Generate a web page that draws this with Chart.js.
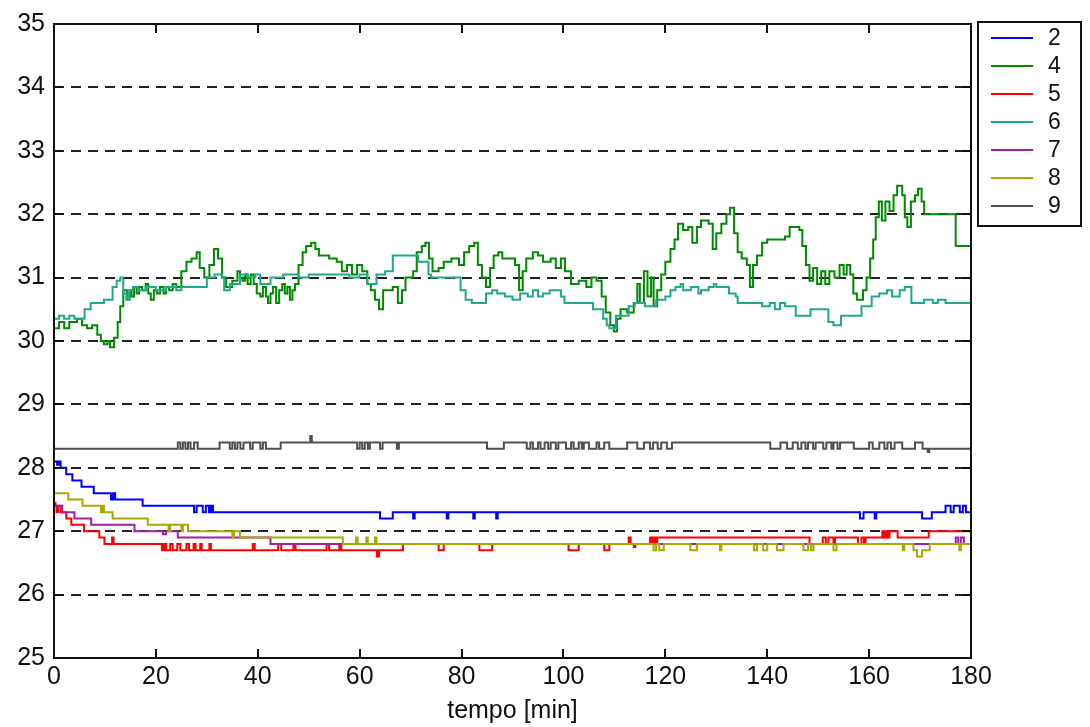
<!DOCTYPE html>
<html>
<head>
<meta charset="utf-8">
<script src="https://cdn.jsdelivr.net/npm/chart.js@4.4.1/dist/chart.umd.min.js"></script>
<style>
  html, body { margin: 0; padding: 0; background: #fff; }
  canvas { display: block; }
</style>
</head>
<body>
<canvas id="chart" width="1090" height="727"></canvas>
<script>
// sensor labels and colours
const names = ['2', '4', '5', '6', '7', '8', '9']
const colors = ['#0000ff', '#008a00', '#ff0000', '#20a88c', '#a020a0', '#a8a800', '#505050']

const xTicks = [0, 20, 40, 60, 80, 100, 120, 140, 160, 180]
const yTicks = [25, 26, 27, 28, 29, 30, 31, 32, 33, 34, 35]

// sensor 2 (time in min, temperature)
const t2 = [0, 0.6, 1, 1.3, 2.4, 3.6, 5.4, 7.8, 11.2, 11.6, 12, 17.4, 27.5, 28, 29.2, 29.8, 30.4, 30.8, 31.2,
  64, 66.5, 70.5, 70.8, 77.1, 77.4, 82.3, 82.6, 86.8, 87.1, 158.2, 158.9, 161.1, 161.4,
  170.4, 172.3, 175, 176, 176.6, 177.8, 178.4, 179, 180]
const v2 = [28.1, 28.05, 28.1, 28.0, 27.9, 27.8, 27.7, 27.6, 27.5, 27.6, 27.5, 27.4, 27.3, 27.4, 27.3, 27.4, 27.3, 27.4, 27.3,
  27.2, 27.3, 27.2, 27.3, 27.2, 27.3, 27.2, 27.3, 27.2, 27.3, 27.2, 27.3, 27.2, 27.3,
  27.2, 27.3, 27.4, 27.3, 27.4, 27.3, 27.4, 27.3, 27.3]

// sensor 4
const t4 = [0, 1, 2, 3, 4.5, 5.5, 6.5, 7.5, 8.5, 9.2, 9.8, 10.5, 11, 11.8, 12.5, 13, 13.6,
  14.3, 14.8, 15.2, 15.7, 16.2, 16.7, 17.3, 18, 18.5, 19, 19.6, 20.2, 20.8, 21.5, 22, 22.6, 23.3, 24,
  25, 26, 27, 28, 28.6, 29.5, 30.5, 31.4, 32.2, 33, 33.8, 35, 36, 36.5, 37, 37.5, 38, 38.6, 39.2, 39.8,
  40.5, 41, 41.6, 42, 42.5, 43, 43.6, 44.2, 44.8, 45.3, 45.8, 46.3, 46.8, 47.3,
  48, 48.8, 49.5, 50.5, 51.3, 52, 54, 55.5, 56.5, 57.5, 58.5, 59.5, 60.5, 61.5, 62.2, 63,
  63.8, 64.6, 66.5, 67.5, 68.3, 69, 70.5, 71.2, 72.2, 72.9, 73.6, 74.3, 75.5, 76.5, 78, 79.5, 80.5, 81.5, 82.5, 83.2, 84,
  84.8, 85.6, 86.3, 87.2, 88, 90.5, 91.3, 92, 92.7, 94, 95, 96, 97.5, 98.5, 99.5, 100.3, 101.5, 103, 104.5, 105.5, 106.5,
  107.5, 108.3, 109.2, 109.9, 110.5, 111.2, 112.5, 113.8, 114.5, 115, 115.8, 116.5, 117.2, 117.7, 118.4, 119.2, 120, 121,
  121.8, 122.5, 123.5, 124.5, 125.3, 126.2, 127, 128.5, 129.3, 130, 131, 132, 132.7, 133.5, 134.2, 135, 136, 136.6, 137.2,
  138, 139, 140, 143.5, 144.4, 146.3, 146.9, 147.6, 148.3, 149, 149.8, 150.6, 151.4, 152.2, 153.2, 154.2, 155, 155.6,
  156.3, 156.9, 157.6, 158.8, 159.5, 160.2, 160.8, 161.3, 161.9, 162.5, 163.2, 164, 164.8, 165.5, 166.5, 167, 167.5,
  168.2, 169, 169.6, 170.3, 170.8, 177, 180]
const v4 = [30.2, 30.3, 30.2, 30.3, 30.35, 30.25, 30.2, 30.25, 30.1, 30.0, 29.95, 30.0, 29.9, 30.05, 30.3, 30.55, 30.8,
  30.65, 30.8, 30.7, 30.85, 30.75, 30.85, 30.8, 30.9, 30.75, 30.65, 30.8, 30.75, 30.85, 30.75, 30.85, 30.8, 30.9, 30.85,
  31.1, 31.25, 31.3, 31.4, 31.15, 31.0, 31.2, 31.45, 31.3, 31.0, 30.85, 30.95, 31.1, 31.0, 30.95, 31.05, 30.9, 31.05, 30.9, 30.75,
  30.7, 30.85, 30.7, 30.6, 30.75, 30.85, 30.6, 30.8, 30.9, 30.75, 30.85, 30.65, 30.8, 30.9,
  31.2, 31.4, 31.5, 31.55, 31.45, 31.35, 31.3, 31.25, 31.1, 31.2, 31.05, 31.2, 31.1, 30.9, 30.8, 30.65,
  30.5, 30.8, 30.85, 30.6, 30.8, 31.0, 31.1, 31.4, 31.5, 31.55, 31.3, 31.1, 31.15, 31.25, 31.3, 31.2, 31.4, 31.5, 31.55, 31.2, 31.0,
  30.85, 31.15, 31.35, 31.4, 31.3, 31.2, 30.8, 31.1, 31.3, 31.4, 31.35, 31.25, 31.3, 31.15, 31.3, 31.1, 30.9, 30.95, 30.85, 31.0, 30.95,
  30.7, 30.45, 30.25, 30.15, 30.35, 30.5, 30.45, 30.6, 30.9, 30.6, 31.1, 30.7, 31.0, 30.55, 30.8, 31.05, 31.25, 31.45,
  31.6, 31.85, 31.75, 31.8, 31.55, 31.8, 31.9, 31.85, 31.45, 31.7, 31.85, 32.0, 32.1, 31.7, 31.4, 31.3, 31.2, 30.85, 31.2,
  31.35, 31.55, 31.6, 31.65, 31.8, 31.75, 31.5, 31.2, 30.95, 31.15, 30.9, 31.1, 30.9, 31.1, 31.0, 31.2, 31.05, 31.2,
  31.05, 30.75, 30.65, 30.8, 31.0, 31.3, 31.6, 31.95, 32.2, 31.9, 32.2, 32.05, 32.3, 32.45, 32.3, 31.95, 31.8,
  32.2, 32.3, 32.4, 32.2, 32.0, 31.5, 31.5]

// sensor 5
const t5 = [0, 0.5, 0.8, 1.3, 2.4, 3.4, 5.9, 8.9, 9.9, 11.4, 11.7, 21.2, 21.6, 22, 22.8, 23.3, 24.2, 24.8, 26, 26.5, 27.4, 27.8,
  28.7, 29, 30.5, 30.8, 39, 39.4, 44, 44.6, 47, 47.4, 53.5, 54, 56, 56.4, 63.4, 63.8, 68.5, 75.5, 76.5, 83.5, 86, 101, 103,
  108, 109, 112.8, 113.2, 113.8, 114.1, 117, 117.4, 117.8, 118.1, 118.4, 148.3, 150.9, 151.5, 152, 153, 153.3, 157.8,
  158.5, 159, 159.3, 162.6, 163, 163.3, 163.6, 164, 165.6, 171.7, 180]
const v5 = [27.4, 27.3, 27.4, 27.3, 27.2, 27.1, 27.0, 26.9, 26.8, 26.9, 26.8, 26.7, 26.8, 26.7, 26.8, 26.7, 26.8, 26.7, 26.8, 26.7, 26.8, 26.7,
  26.8, 26.7, 26.8, 26.7, 26.8, 26.7, 26.8, 26.7, 26.8, 26.7, 26.8, 26.7, 26.8, 26.7, 26.6, 26.7, 26.8, 26.7, 26.8, 26.7, 26.8, 26.7, 26.8,
  26.7, 26.8, 26.9, 26.8, 26.75, 26.8, 26.9, 26.8, 26.9, 26.8, 26.9, 26.8, 26.9, 26.8, 26.9, 26.8, 26.9, 26.8,
  26.9, 26.8, 26.9, 27.0, 26.9, 27.0, 26.9, 27.0, 26.9, 27.0, 27.0]

// sensor 6
const t6 = [0, 1, 2, 3, 4, 6, 7.2, 9.8, 11.5, 12.3, 13, 13.6, 14.2, 14.8, 15.5, 16.5, 18, 20, 22, 24, 25, 30, 31.5, 33, 33.4,
  34.5, 36.5, 38, 39.5, 40.5, 42.5, 45, 48, 50, 58, 60, 61.5, 63.3, 65, 66.5, 71.5, 73.5, 74, 79.8, 80.8, 82, 84.8, 86, 87,
  88.5, 90, 91.5, 93, 94, 95, 96, 97.3, 99.5, 100.2, 105.8, 107.8, 108.5, 109, 110.3, 112.8, 114, 116, 118.2, 120, 121,
  122, 123, 123.5, 125, 126.5, 127, 128.5, 129.5, 130, 132.5, 133.8, 134.2, 139, 140.5, 141.5, 142.5, 143.5, 145.6, 148.5, 152, 153, 154.5,
  158.5, 160.5, 162, 163.5, 164.5, 166, 167, 168.3, 170.8, 172.5, 173.5, 175, 180]
const v6 = [30.35, 30.4, 30.35, 30.4, 30.35, 30.5, 30.6, 30.65, 30.85, 30.95, 31.0, 30.75, 30.65, 30.8, 30.85, 30.8, 30.85, 30.8, 30.85, 30.8, 30.85, 31.0, 31.05, 31.0, 30.8,
  30.9, 31.05, 31.0, 31.05, 30.9, 31.0, 31.05, 31.0, 31.05, 31.0, 31.05, 30.9, 31.05, 31.1, 31.35, 31.25, 31.05, 31.0, 30.8, 30.65, 30.6, 30.75, 30.8, 30.75,
  30.7, 30.65, 30.75, 30.7, 30.8, 30.7, 30.75, 30.8, 30.7, 30.6, 30.5, 30.35, 30.25, 30.2, 30.4, 30.55, 30.6, 30.55, 30.65, 30.7, 30.8,
  30.85, 30.9, 30.8, 30.85, 30.75, 30.8, 30.85, 30.9, 30.85, 30.75, 30.7, 30.6, 30.55, 30.6, 30.5, 30.6, 30.55, 30.4, 30.5, 30.3, 30.25, 30.4,
  30.55, 30.7, 30.75, 30.8, 30.7, 30.8, 30.85, 30.6, 30.65, 30.6, 30.65, 30.6, 30.6]

// sensor 7
const t7 = [0, 0.3, 1.6, 4, 7.3, 15.8, 21.4, 22, 24.3, 42.5, 177, 177.5, 178, 178.6, 180]
const v7 = [27.45, 27.4, 27.3, 27.2, 27.1, 27.0, 26.95, 27.0, 26.9, 26.8, 26.9, 26.8, 26.9, 26.8, 26.8]

// sensor 8
const t8 = [0, 2.8, 5.6, 9.2, 9.5, 9.8, 11.5, 18.4, 22.5, 22.8, 25, 25.3, 26.3, 35, 35.3, 36.5, 56.7, 59.3, 59.6, 61.3, 61.6,
  63, 63.3, 117.7, 118.2, 118.8, 119.7, 124.9, 126.2, 130.7, 131, 137.4, 138, 139.2, 140, 141.9, 143.2, 147.1, 148,
  148.6, 149.1, 153, 153.6, 166.6, 166.9, 168.7, 169.4, 170.4, 171.9, 177.7, 178, 180]
const v8 = [27.6, 27.5, 27.4, 27.3, 27.4, 27.3, 27.2, 27.1, 27.0, 27.1, 27.0, 27.1, 27.0, 26.9, 27.0, 26.9, 26.8, 26.9, 26.8, 26.9, 26.8,
  26.9, 26.8, 26.7, 26.8, 26.7, 26.8, 26.7, 26.8, 26.7, 26.8, 26.7, 26.8, 26.7, 26.8, 26.7, 26.8, 26.7, 26.8,
  26.7, 26.8, 26.7, 26.8, 26.7, 26.8, 26.7, 26.6, 26.7, 26.8, 26.7, 26.8, 26.8]

// sensor 9
const t9 = [0, 24.3, 24.8, 25.3, 25.8, 26.3, 26.8, 27.5, 28.2, 32.5, 34.5, 35, 35.5, 36, 36.6, 37.2, 38.5, 39, 40.5, 41, 41.6,
  44.5, 50.3, 50.6, 59.5, 60, 60.5, 61, 61.6, 62, 64, 64.5, 67.3, 67.7, 85, 88.3, 92.8, 93.5, 94, 95, 95.5, 96.3, 97, 97.5,
  98.5, 99, 100.5, 101.5, 102, 103, 103.6, 104, 105, 106.5, 107, 108, 109, 112.5, 114.5, 115.8, 117, 117.6, 118.5, 119.2,
  120.3, 121.3, 140.6, 142.6, 143.9, 145, 146, 146.7, 147.5, 148, 149, 149.5, 151, 151.6, 152.6, 153, 153.8, 154.3,
  157, 160, 160.7, 162, 163, 163.6, 164.3, 165, 166.5, 169, 170.5, 171.5, 171.8, 180]
const v9 = [28.3, 28.4, 28.3, 28.4, 28.3, 28.4, 28.3, 28.4, 28.3, 28.4, 28.3, 28.4, 28.3, 28.4, 28.3, 28.4, 28.3, 28.4, 28.3, 28.4, 28.3,
  28.4, 28.5, 28.4, 28.3, 28.4, 28.3, 28.4, 28.3, 28.4, 28.3, 28.4, 28.3, 28.4, 28.3, 28.4, 28.3, 28.4, 28.3, 28.4, 28.3, 28.4, 28.3, 28.4,
  28.3, 28.4, 28.3, 28.4, 28.3, 28.4, 28.3, 28.4, 28.3, 28.4, 28.3, 28.4, 28.3, 28.4, 28.3, 28.4, 28.3, 28.4, 28.3, 28.4,
  28.3, 28.4, 28.3, 28.4, 28.3, 28.4, 28.3, 28.4, 28.3, 28.4, 28.3, 28.4, 28.3, 28.4, 28.3, 28.4, 28.3, 28.4,
  28.3, 28.4, 28.3, 28.4, 28.3, 28.4, 28.3, 28.4, 28.3, 28.4, 28.3, 28.25, 28.3, 28.3]

const times = [t2, t4, t5, t6, t7, t8, t9]
const values = [v2, v4, v5, v6, v7, v8, v9]

const font = "'Liberation Sans Narrow', 'Liberation Sans', Arial, sans-serif"

// box round the plot with inward ticks, like the original figure
const frame = {
  id: 'frame',
  afterDatasetsDraw(chart) {
    const { ctx, chartArea: a, scales: { x, y } } = chart
    ctx.save()
    ctx.strokeStyle = '#111'
    ctx.lineWidth = 2
    ctx.strokeRect(a.left, a.top, a.right - a.left, a.bottom - a.top)
    ctx.beginPath()
    x.ticks.forEach(t => {
      const px = Math.round(x.getPixelForValue(t.value))
      ctx.moveTo(px, a.bottom); ctx.lineTo(px, a.bottom - 9)
      ctx.moveTo(px, a.top); ctx.lineTo(px, a.top + 9)
    })
    y.ticks.forEach(t => {
      const py = Math.round(y.getPixelForValue(t.value))
      ctx.moveTo(a.left, py); ctx.lineTo(a.left + 9, py)
      ctx.moveTo(a.right, py); ctx.lineTo(a.right - 9, py)
    })
    ctx.stroke()
    ctx.restore()
  }
}

const legendBox = {
  id: 'legendBox',
  afterDraw(chart) {
    const { ctx } = chart
    const left = 978, top = 22, w = 103, h = 204
    ctx.save()
    ctx.fillStyle = '#fff'
    ctx.fillRect(left, top, w, h)
    ctx.strokeStyle = '#111'
    ctx.lineWidth = 2
    ctx.strokeRect(left, top, w, h)
    ctx.font = '23px ' + font
    ctx.textBaseline = 'middle'
    chart.data.datasets.forEach((ds, i) => {
      const yy = top + 16 + i * 28
      ctx.strokeStyle = ds.borderColor
      ctx.beginPath()
      ctx.moveTo(left + 13, yy); ctx.lineTo(left + 55, yy)
      ctx.stroke()
      ctx.fillStyle = '#111'
      ctx.fillText(ds.label, left + 70, yy + 1)
    })
    ctx.restore()
  }
}

new Chart(document.getElementById('chart'), {
  type: 'line',
  data: {
    datasets: names.map((name, i) => ({
      label: name,
      data: times[i].map((t, j) => ({ x: t, y: values[i][j] })),
      borderColor: colors[i],
      borderWidth: 2,
      pointRadius: 0,
      stepped: true,
      fill: false,
      order: names.length - i
    }))
  },
  options: {
    responsive: false,
    animation: false,
    devicePixelRatio: 1,
    layout: { padding: { left: 0, right: 119, top: 21, bottom: 0 } },
    plugins: { legend: { display: false }, tooltip: { enabled: false } },
    scales: {
      x: {
        type: 'linear',
        min: 0,
        max: 180,
        afterBuildTicks: s => { s.ticks = xTicks.map(v => ({ value: v })) },
        afterFit: s => { s.height = 69 },
        grid: { display: false, drawTicks: false },
        border: { display: false },
        ticks: { color: '#111', padding: 4, maxRotation: 0, font: { family: font, size: 25 } },
        title: { display: true, text: 'tempo [min]', color: '#111', padding: { top: 0, bottom: 1 }, font: { family: font, size: 25 } }
      },
      y: {
        min: 25,
        max: 35,
        afterBuildTicks: s => { s.ticks = yTicks.map(v => ({ value: v })) },
        afterFit: s => { s.width = 54 },
        grid: {
          drawTicks: false,
          lineWidth: 2,
          color: c => (c.tick && (c.tick.value === 25 || c.tick.value === 35)) ? 'rgba(0,0,0,0)' : '#222'
        },
        border: { display: false, dash: [10, 7] },
        ticks: { color: '#111', padding: 9, font: { family: font, size: 25 } }
      }
    }
  },
  plugins: [frame, legendBox]
})
</script>
</body>
</html>
